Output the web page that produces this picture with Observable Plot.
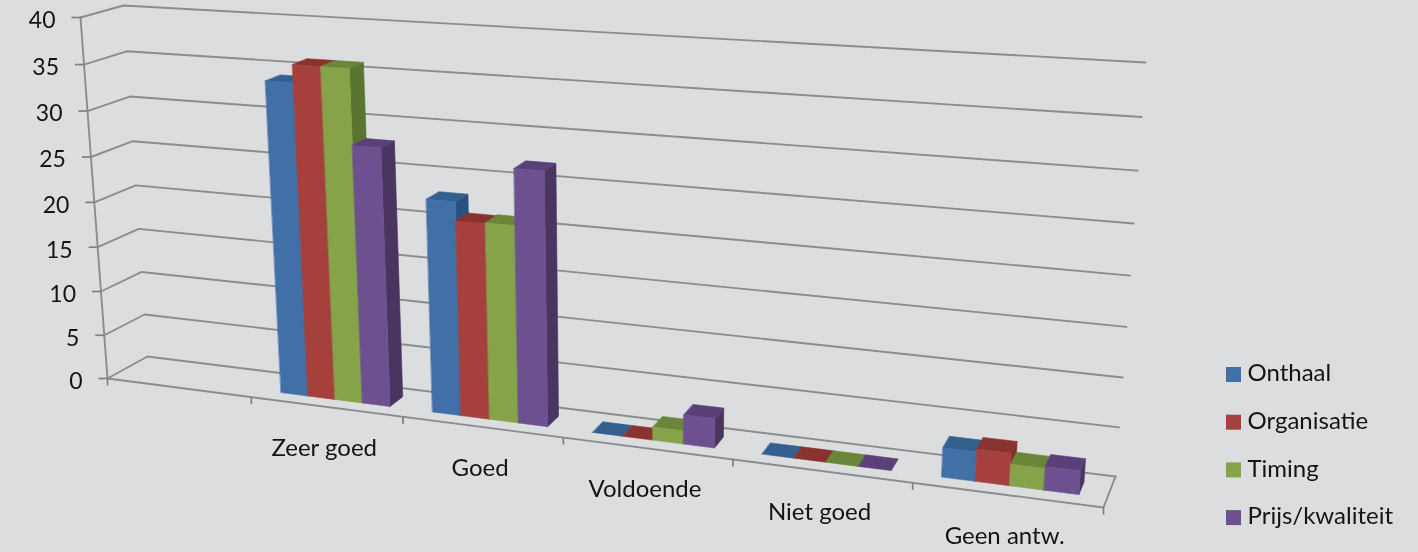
<!DOCTYPE html>
<html><head><meta charset="utf-8">
<script src="https://cdn.jsdelivr.net/npm/d3@7"></script>
<script src="https://cdn.jsdelivr.net/npm/@observablehq/plot@0.6"></script>
<style>html,body{margin:0;padding:0;background:#dcddde;overflow:hidden}svg{display:block;filter:blur(.55px)}</style>
</head><body><div id="c"></div>
<script>
const categories = ["", "Zeer goed", "Goed", "Voldoende", "Niet goed", "Geen antw."];
const seriesNames = ["Onthaal", "Organisatie", "Timing", "Prijs/kwaliteit"];
const onthaal     = [0, 34.1, 23.0, 0, 0, 3.0];
const organisatie = [0, 36.0, 21.0, 0, 0, 3.3];
const timing      = [0, 36.0, 21.1, 1.4, 0, 2.2];
const prijs       = [0, 28.0, 27.0, 3.1, 0, 2.4];
const seriesValues = [onthaal, organisatie, timing, prijs];
const yTicks = [0, 5, 10, 15, 20, 25, 30, 35, 40];
const frontColors = ["#4170a8", "#a5403d", "#86a34a", "#6d5090"];
const sideColors  = ["#27527f", "#7c2f2d", "#5b7530", "#4a3560"];
const topColors   = ["#33608f", "#8a3230", "#6a8638", "#5a4078"];

// Perspective of the 3-D box: (slot 0..6, value 0..40) on the front and back planes
const frontQuad = [[107,378],[1103,507],[1130,83],[80,17]];
const backQuad  = [[147,356],[1115,476],[1145,62],[123,5]];
function homography(q){
  const [[x0,y0],[x1,y1],[x2,y2],[x3,y3]] = q;
  const dx1=x1-x2,dx2=x3-x2,sx=x0-x1+x2-x3,dy1=y1-y2,dy2=y3-y2,sy=y0-y1+y2-y3;
  const den=dx1*dy2-dx2*dy1, g=(sx*dy2-dx2*sy)/den, h=(dx1*sy-sx*dy1)/den;
  const a=x1-x0+g*x1,b=x3-x0+h*x3,d=y1-y0+g*y1,e=y3-y0+h*y3;
  return (u,v)=>{const w=g*u+h*v+1;return [(a*u+b*v+x0)/w,(d*u+e*v+y0)/w];};
}
const hf=homography(frontQuad), hb=homography(backQuad);
function project(slot,val,depth){
  const f=hf(slot/6,val/40), b=hb(slot/6,val/40);
  return [f[0]+(b[0]-f[0])*depth, f[1]+(b[1]-f[1])*depth];
}

const gap=0.13, groupW=0.725, d0=0.3, d1=0.7, barW=groupW/4;
const faces=[];
function face(id,color,pts){for(const p of pts){const [x,y]=project(...p);faces.push({id,color,x,y});}}
categories.forEach((cat,c)=>{
  seriesValues.forEach((vals,s)=>{
    const v=vals[c]; if(c===0) return;
    const u0=c+gap+s*barW,u1=u0+barW,k=`${c}-${s}-`;
    if(v>0) face(k+"side",sideColors[s],[[u1,0,d0],[u1,0,d1],[u1,v,d1],[u1,v,d0]]);
    face(k+"top",topColors[s],[[u0,v,d0],[u1,v,d0],[u1,v,d1],[u0,v,d1]]);
    if(v>0) face(k+"front",frontColors[s],[[u0,0,d0],[u1,0,d0],[u1,v,d0],[u0,v,d0]]);
  });
});

const px=p=>({x:p[0],y:p[1]});
const grid=[];
yTicks.forEach(v=>{
  for(const p of [project(0,v,0),project(0,v,1),project(6,v,1)]) grid.push({v,...px(p)});
});
const frame=[];
const addF=(id,pts)=>pts.forEach(p=>frame.push({id,...px(p)}));
addF("axis",[project(0,0,0),project(0,40,0)]);
addF("front",[project(0,0,0),project(6,0,0),project(6,0,1)]);
const xt=d3.range(0,7).map(i=>px(project(i,0,0)));
const yt=yTicks.map(v=>({v,...px(project(0,v,0))}));
const xl=categories.map((c,i)=>({c,...px(project(i+.5,0,0))})).filter(d=>d.c);

const legendTop=367, legendStep=47.7, legendLeft=1226, sw=15;
const legend=seriesNames.map((name,i)=>({name,color:frontColors[i],y:legendTop+i*legendStep}));

const font="Lato";
const ink="#141414";
const chart=Plot.plot({
  width:1418,height:552,margin:0,
  x:{domain:[0,1418],range:[0,1418],axis:null},
  y:{domain:[0,552],range:[0,552],axis:null},
  color:{type:"identity"},
  style:{background:"#dcddde",fontFamily:font},
  marks:[
    Plot.line(grid,{x:"x",y:"y",z:"v",stroke:"#8c8c8c",strokeWidth:1.9,curve:"linear"}),
    Plot.line(frame,{x:"x",y:"y",z:"id",stroke:"#8c8c8c",strokeWidth:1.9,curve:"linear"}),
    Plot.link(yt,{x1:d=>d.x-9,x2:"x",y1:"y",y2:"y",stroke:"#808080",strokeWidth:1.7}),
    Plot.link(xt,{x1:"x",x2:"x",y1:"y",y2:d=>d.y+7,stroke:"#808080",strokeWidth:1.7}),
    Plot.line(faces,{x:"x",y:"y",z:"id",fill:"color",stroke:"color",strokeWidth:.6,curve:"linear-closed"}),
    Plot.text(yt,{x:"x",y:"y",text:d=>String(d.v),textAnchor:"end",dx:-25,dy:3,fontSize:23,fill:ink}),
    Plot.text(xl,{x:"x",y:"y",text:"c",dx:-2,dy:41,fontSize:24,fill:ink}),
    Plot.rect(legend,{x1:()=>legendLeft,x2:()=>legendLeft+sw,y1:"y",y2:d=>d.y+sw,fill:"color"}),
    Plot.text(legend,{x:()=>legendLeft+21,y:d=>d.y+6,text:"name",textAnchor:"start",fontSize:24,fill:ink})
  ]
});
document.getElementById("c").append(chart);
</script></body></html>
